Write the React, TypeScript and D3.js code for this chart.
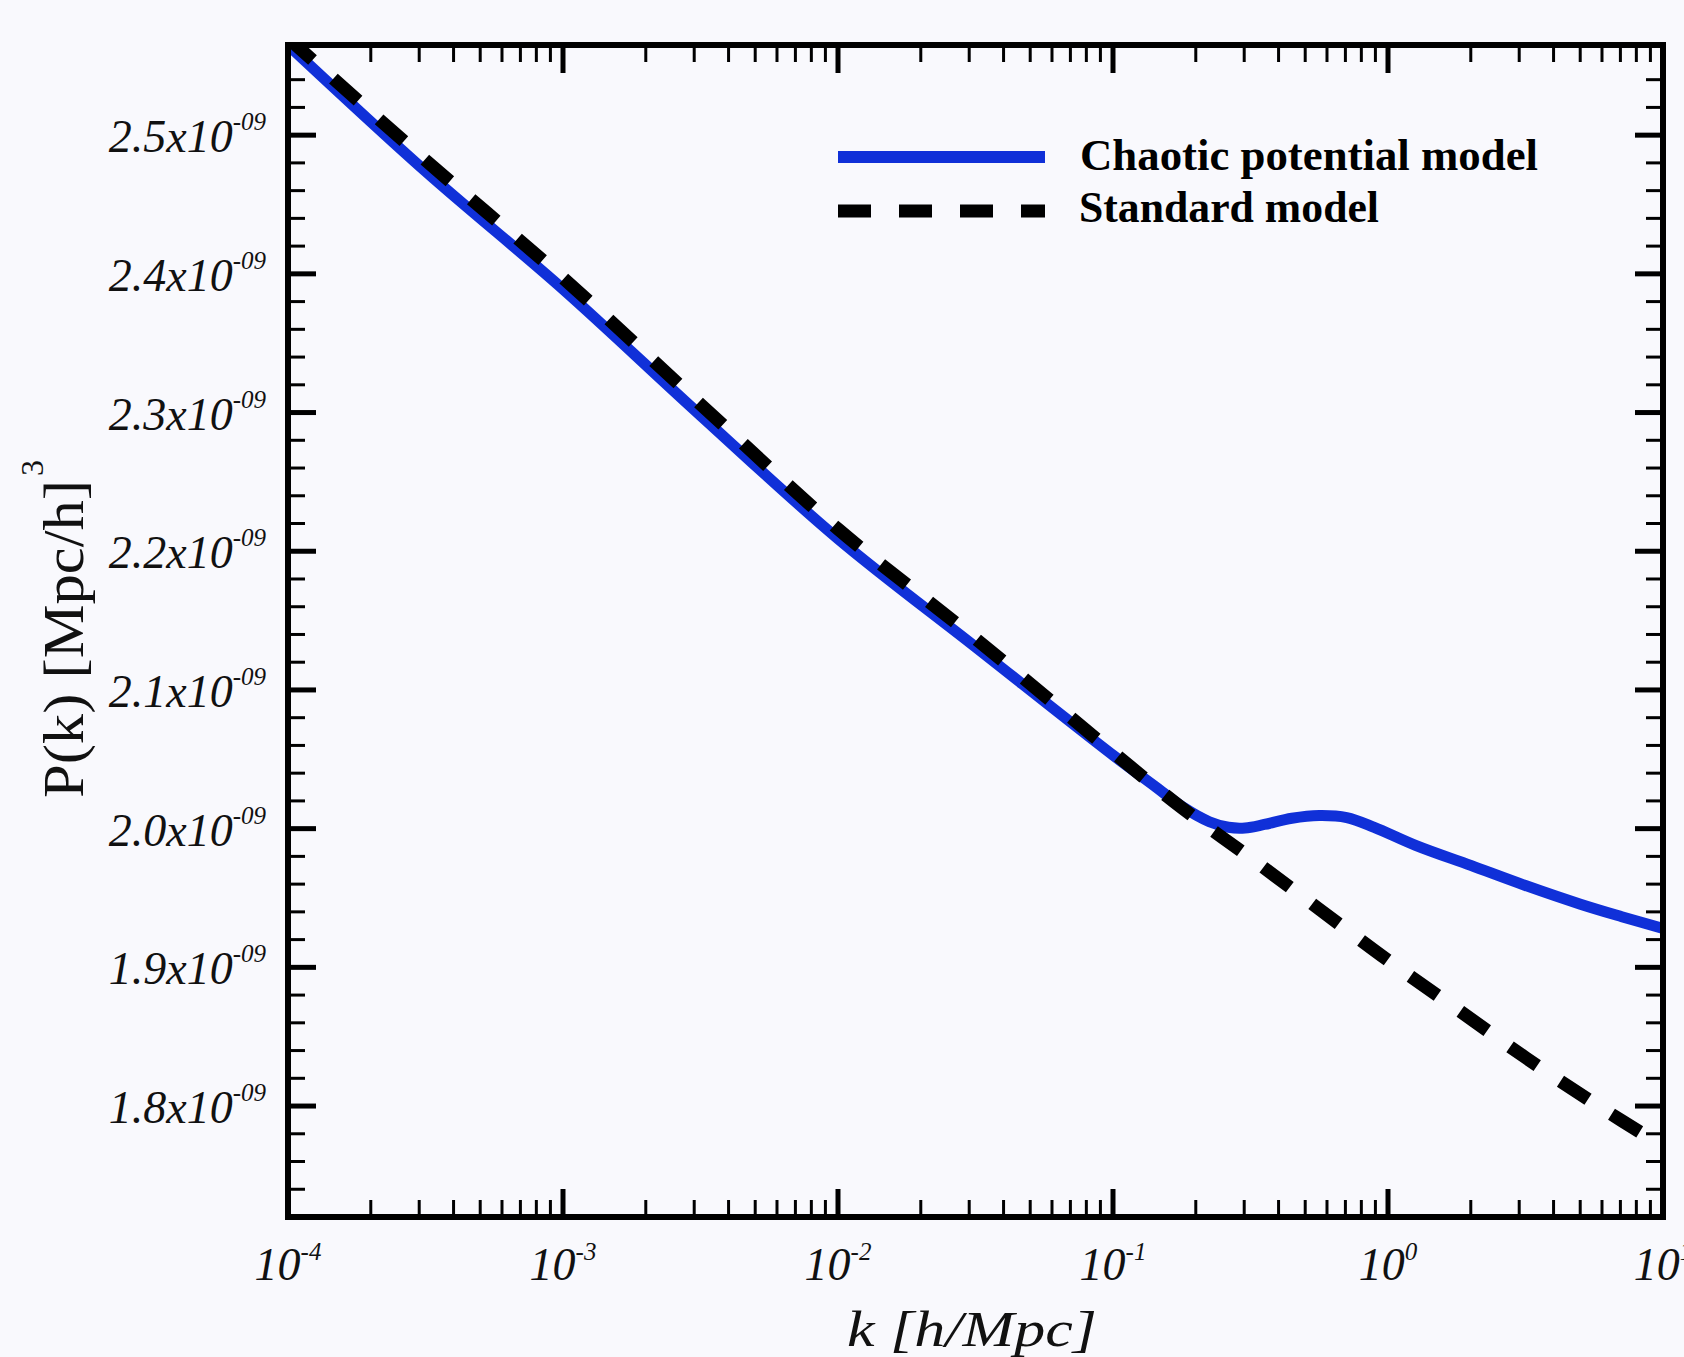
import React from "react";
import * as d3 from "d3";

// ---- data (P(k) in units of Mpc^3/h^3, k in h/Mpc) ----
const chaoticK = [1e-4, 3.16e-4, 1e-3, 3.16e-3, 1e-2, 3.16e-2, 0.1, 0.141, 0.178, 0.224, 0.263, 0.302, 0.355, 0.447, 0.562, 0.708, 0.891, 1.26, 2.0, 3.16, 5.01, 7.08, 10];
const chaoticP = [2.565e-9, 2.474e-9, 2.389e-9, 2.298e-9, 2.209e-9, 2.131e-9, 2.053e-9, 2.031e-9, 2.016e-9, 2.005e-9, 2.001e-9, 2.0005e-9, 2.003e-9, 2.0075e-9, 2.0095e-9, 2.008e-9, 2.001e-9, 1.988e-9, 1.9735e-9, 1.959e-9, 1.9455e-9, 1.9365e-9, 1.928e-9];

const standardK = [1e-4, 3.16e-4, 1e-3, 3.16e-3, 1e-2, 3.16e-2, 0.1, 0.178, 0.316, 0.562, 1, 1.78, 3.16, 5.62, 10];
const standardP = [2.57e-9, 2.482e-9, 2.397e-9, 2.306e-9, 2.216e-9, 2.137e-9, 2.055e-9, 2.015e-9, 1.979e-9, 1.942e-9, 1.905e-9, 1.87e-9, 1.835e-9, 1.802e-9, 1.771e-9];

const yMajorTicks = [1.8e-9, 1.9e-9, 2.0e-9, 2.1e-9, 2.2e-9, 2.3e-9, 2.4e-9, 2.5e-9];
const yTickLabels = ["1.8x10", "1.9x10", "2.0x10", "2.1x10", "2.2x10", "2.3x10", "2.4x10", "2.5x10"];
const yTickExp = "-09";
const yMinorTicks = [1.74e-9, 1.76e-9, 1.78e-9, 1.82e-9, 1.84e-9, 1.86e-9, 1.88e-9, 1.92e-9, 1.94e-9, 1.96e-9, 1.98e-9, 2.02e-9, 2.04e-9, 2.06e-9, 2.08e-9, 2.12e-9, 2.14e-9, 2.16e-9, 2.18e-9, 2.22e-9, 2.24e-9, 2.26e-9, 2.28e-9, 2.32e-9, 2.34e-9, 2.36e-9, 2.38e-9, 2.42e-9, 2.44e-9, 2.46e-9, 2.48e-9, 2.52e-9, 2.54e-9];

const xMajorTicks = [1e-4, 1e-3, 1e-2, 1e-1, 1, 10];
const xTickExps = ["-4", "-3", "-2", "-1", "0", "1"];
const xMinorMultipliers = [2, 3, 4, 5, 6, 7, 8, 9];

const seriesNames = ["Chaotic potential model", "Standard model"];

const W = 1684;
const H = 1357;
const L = 288, R = 1663, T = 45, B = 1217;
const BG = "#f9f9fd";
const BLUE = "#1030d8";

export default function App() {
  const x = d3.scaleLog().domain([1e-4, 10]).range([L, R]);
  const y = d3.scaleLinear().domain([1.72e-9, 2.565e-9]).range([B, T]);

  const line = d3
    .line<[number, number]>()
    .x((d) => x(d[0]))
    .y((d) => y(d[1]))
    .curve(d3.curveCatmullRom.alpha(0.5));

  const chaotic = line(chaoticK.map((k, i) => [k, chaoticP[i]]) as [number, number][]) || "";
  const standard = line(standardK.map((k, i) => [k, standardP[i]]) as [number, number][]) || "";

  const xMinor: number[] = [];
  for (let i = 0; i < xMajorTicks.length - 1; i++) {
    for (const m of xMinorMultipliers) xMinor.push(xMajorTicks[i] * m);
  }
  const xInnerMajor = xMajorTicks.slice(1, -1);

  const serif = "'Liberation Serif', 'Times New Roman', serif";
  const MAJ = 28, MIN = 17;

  return (
    <svg
      width={W}
      height={H}
      viewBox={`0 0 ${W} ${H}`}
      style={{ position: "absolute", left: 0, top: 0, display: "block" }}
    >
      <rect x={0} y={0} width={W} height={H} fill={BG} />
      <defs>
        <clipPath id="plotclip">
          <rect x={L} y={T} width={R - L} height={B - T} />
        </clipPath>
      </defs>

      {/* curves */}
      <g clipPath="url(#plotclip)">
        <path d={chaotic} fill="none" stroke={BLUE} strokeWidth={11} strokeLinejoin="round" />
        <path d={standard} fill="none" stroke="#000" strokeWidth={13} strokeDasharray="33 28" />
      </g>

      {/* y ticks */}
      {yMajorTicks.map((v, i) => (
        <g key={"ym" + i}>
          <line x1={L} x2={L + MAJ} y1={y(v)} y2={y(v)} stroke="#000" strokeWidth={5} />
          <line x1={R} x2={R - MAJ} y1={y(v)} y2={y(v)} stroke="#000" strokeWidth={5} />
          <text x={266} y={y(v) + 17} textAnchor="end" fontFamily={serif} fontStyle="italic" fontSize={46} fill="#111">
            {yTickLabels[i]}
            <tspan fontSize={25} dy={-22}>{yTickExp}</tspan>
          </text>
        </g>
      ))}
      {yMinorTicks.map((v, i) => (
        <g key={"yn" + i}>
          <line x1={L} x2={L + MIN} y1={y(v)} y2={y(v)} stroke="#000" strokeWidth={3} />
          <line x1={R} x2={R - MIN} y1={y(v)} y2={y(v)} stroke="#000" strokeWidth={3} />
        </g>
      ))}

      {/* x ticks */}
      {xInnerMajor.map((v, i) => (
        <g key={"xm" + i}>
          <line x1={x(v)} x2={x(v)} y1={B} y2={B - MAJ} stroke="#000" strokeWidth={5} />
          <line x1={x(v)} x2={x(v)} y1={T} y2={T + MAJ} stroke="#000" strokeWidth={5} />
        </g>
      ))}
      {xMinor.map((v, i) => (
        <g key={"xn" + i}>
          <line x1={x(v)} x2={x(v)} y1={B} y2={B - MIN} stroke="#000" strokeWidth={3} />
          <line x1={x(v)} x2={x(v)} y1={T} y2={T + MIN} stroke="#000" strokeWidth={3} />
        </g>
      ))}
      {xMajorTicks.map((v, i) => (
        <text key={"xl" + i} x={x(v)} y={1280} textAnchor="middle" fontFamily={serif} fontStyle="italic" fontSize={46} fill="#111">
          10
          <tspan fontSize={25} dy={-20}>{xTickExps[i]}</tspan>
        </text>
      ))}

      {/* frame */}
      <rect x={L} y={T} width={R - L} height={B - T} fill="none" stroke="#000" strokeWidth={6} />

      {/* axis titles */}
      <text x={972} y={1346} textAnchor="middle" fontFamily={serif} fontStyle="italic" fontSize={50} textLength={250} lengthAdjust="spacingAndGlyphs" fill="#111">
        k [h/Mpc]
      </text>
      <g transform="translate(83, 798) rotate(-90)">
        <text x={0} y={0} fontFamily={serif} fontSize={58} textLength={318} lengthAdjust="spacingAndGlyphs" fill="#111">
          P(k) [Mpc/h]
        </text>
        <text x={322} y={-40} fontFamily={serif} fontSize={32} fill="#111">3</text>
      </g>

      {/* legend */}
      <line x1={838} x2={1045} y1={157} y2={157} stroke={BLUE} strokeWidth={12} />
      <line x1={838} x2={1045} y1={211} y2={211} stroke="#000" strokeWidth={13} strokeDasharray="33 28" />
      <text x={1080} y={170} fontFamily={serif} fontWeight="bold" fontSize={44} textLength={458} lengthAdjust="spacingAndGlyphs" fill="#000">{seriesNames[0]}</text>
      <text x={1079} y={222} fontFamily={serif} fontWeight="bold" fontSize={44} textLength={300} lengthAdjust="spacingAndGlyphs" fill="#000">{seriesNames[1]}</text>
    </svg>
  );
}
